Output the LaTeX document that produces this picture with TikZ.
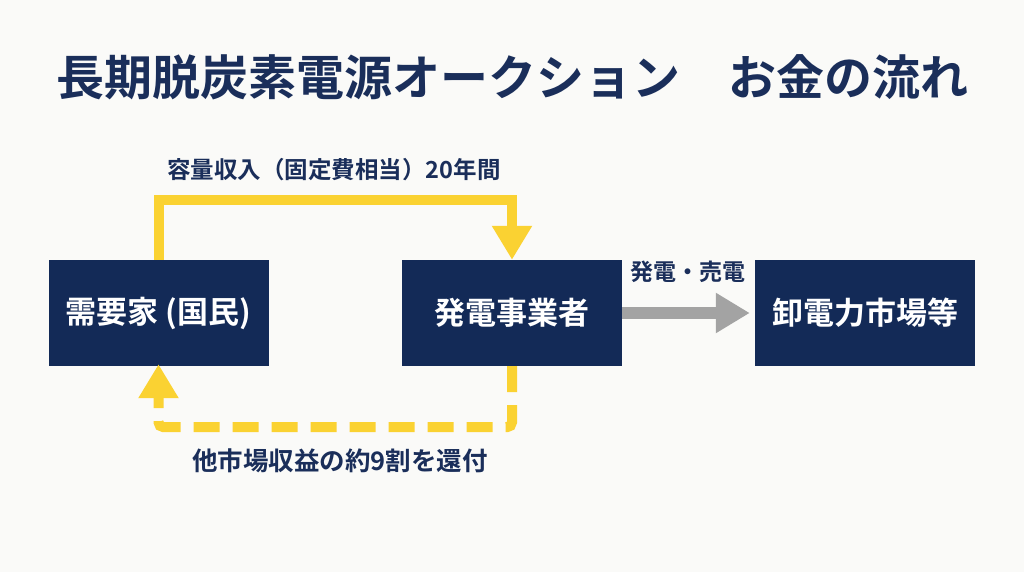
\documentclass[tikz,border=0pt]{standalone}
\usepackage{fontspec}
\setmainfont{Noto Sans CJK JP}[BoldFont={Noto Sans CJK JP Bold}]
\usetikzlibrary{arrows.meta}
\definecolor{navy}{HTML}{132A57}
\definecolor{titlenavy}{HTML}{1A2E5A}
\definecolor{yel}{HTML}{FAD232}
\definecolor{bg}{HTML}{FAFAF8}
\definecolor{arrowgray}{HTML}{A3A3A3}
\tikzset{
  boxnode/.style={fill=navy, text=white, minimum width=220pt, minimum height=106pt,
    inner sep=0pt, font=\fontsize{31}{36}\selectfont\bfseries},
  lbl/.style={text=titlenavy, inner sep=0pt, font=\fontsize{23.5}{28}\selectfont\bfseries},
  yline/.style={draw=yel, line width=10pt},
  ytip/.style={-{Triangle[length=34pt,width=38pt]}},
}
\begin{document}
\begin{tikzpicture}[x=1pt,y=-1pt]
\fill[bg] (0,0) rectangle (1024,572);
\useasboundingbox (0,0) rectangle (1024,572);
\node[text=titlenavy, inner sep=0pt, font=\fontsize{48}{54}\selectfont\bfseries] (title) at (512,77) {長期脱炭素電源オークション　お金の流れ};
\node[boxnode] (A) at (158.5,313) {需要家 (国民)};
\node[boxnode] (B) at (512,313) {発電事業者};
\node[boxnode] (C) at (865,313) {卸電力市場等};
\draw[yline, ytip] (A.north) -- ++(0,-60) -| (B.north);
\draw[yline, ytip, dash pattern=on 26pt off 13pt, rounded corners=5pt] (B.south) -- ++(0,61) -| ([yshift=2pt]A.south);
\draw[draw=arrowgray, line width=12pt, -{Triangle[length=34pt,width=38pt]}, shorten >=5pt] (B.east) -- (C.west);
\node[lbl] (top) at (334,170) {容量収入（固定費相当）20年間};
\node[lbl, font=\fontsize{25.5}{30}\selectfont\bfseries] (bot) at (340,461) {他市場収益の約9割を還付};
\node[lbl, font=\fontsize{23}{27}\selectfont\bfseries] (sell) at (688,272) {発電・売電};
\end{tikzpicture}
\end{document}
